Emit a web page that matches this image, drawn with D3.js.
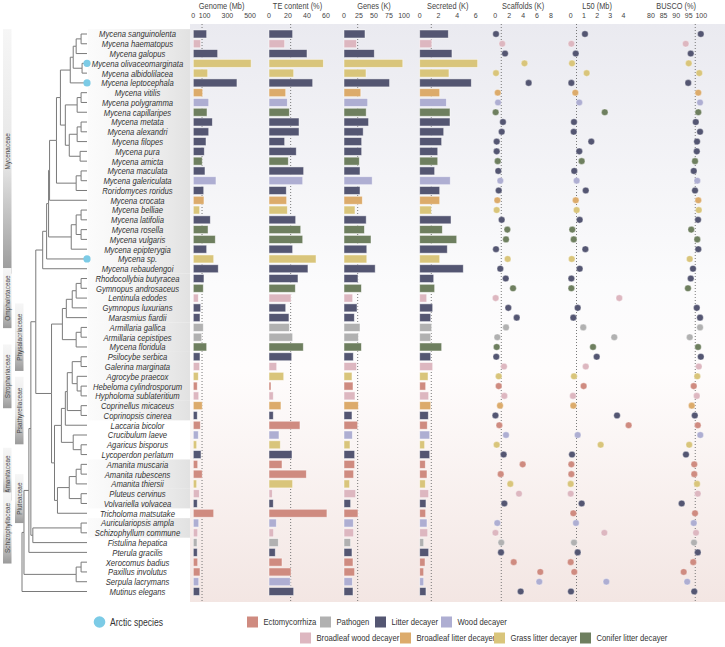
<!doctype html>
<html>
<head>
<meta charset="utf-8">
<style>
  body { margin: 0; background: #fff; }
  svg text { font-family: "Liberation Sans", Arial, sans-serif; }
  .name { font-style: italic; font-size: 9.6px; fill: #333; }
  .head { font-size: 8.4px; fill: #444; }
  .tick { font-size: 7.8px; fill: #444; }
  .fam { font-size: 7px; fill: #4a4a4a; }
  .leg { font-size: 9.6px; fill: #333; }
</style>
</head>
<body>
<svg id="chart" width="725" height="647"></svg>
<script src="https://d3js.org/d3.v7.min.js"></script>
<script>
// ---- data ----
var species = ["Mycena sanguinolenta","Mycena haematopus","Mycena galopus","Mycena olivaceomarginata",
  "Mycena albidolilacea","Mycena leptocephala","Mycena vitilis","Mycena polygramma","Mycena capillaripes",
  "Mycena metata","Mycena alexandri","Mycena filopes","Mycena pura","Mycena amicta","Mycena maculata",
  "Mycena galericulata","Roridomyces roridus","Mycena crocata","Mycena belliae","Mycena latifolia",
  "Mycena rosella","Mycena vulgaris","Mycena epipterygia","Mycena sp.","Mycena rebaudengoi",
  "Rhodocollybia butyracea","Gymnopus androsaceus","Lentinula edodes","Gymnopus luxurians","Marasmius fiardii",
  "Armillaria gallica","Armillaria cepistipes","Mycena floridula","Psilocybe serbica","Galerina marginata",
  "Agrocybe praecox","Hebeloma cylindrosporum","Hypholoma sublateritium","Coprinellus micaceus",
  "Coprinopsis cinerea","Laccaria bicolor","Crucibulum laeve","Agaricus bisporus","Lycoperdon perlatum",
  "Amanita muscaria","Amanita rubescens","Amanita thiersii","Pluteus cervinus","Volvariella volvacea",
  "Tricholoma matsutake","Auriculariopsis ampla","Schizophyllum commune","Fistulina hepatica","Pterula gracilis",
  "Xerocomus badius","Paxillus involutus","Serpula lacrymans","Mutinus elegans"];

// lifestyle code per species (same order)
var lifestyle = ["L","BW","L","G","G","L","BL","W","C","L","L","L","L","C","L","W","L","BL","G","L",
  "C","C","L","G","L","L","C","BW","L","L","P","P","C","L","BW","G","E","BW","BL","L",
  "E","W","G","L","E","E","G","BW","L","E","W","BW","P","L","E","E","W","L"];

var arctic = ["Mycena olivaceomarginata","Mycena leptocephala","Mycena sp."];

var genome = [118,65,215,510,127,385,83,136,121,168,136,112,97,79,103,200,92,94,56,150,
  130,194,118,180,220,94,88,44,65,59,88,74,118,59,56,44,35,48,79,35,
  62,44,30,68,39,79,30,53,35,180,48,39,33,35,39,59,48,56];
var teContent = [24.9,16.5,40,57.2,26,46,17.6,19.3,21.4,31.6,31.6,16.5,28.7,20.3,36.5,35.5,18.2,18.6,19.3,28.1,
  33.4,35.5,24.9,49.5,41,30.5,27.7,23.2,17.6,21,21.4,24.9,36.1,23.9,8.1,15.5,2.1,4.5,12.6,4.5,
  32.6,10.5,11.9,24.2,13.7,39.3,24.9,3.5,4.5,61,7.7,4.9,9.8,6.6,13.7,23.2,22.4,26];
var genes = [35,21,50.5,98,36.7,76,28,39.5,37,41,32,29.5,29.5,25.5,26.7,47,26.7,30.5,18.3,37,
  34,45,38,38,52,23.3,29,14.5,21.7,17.2,26.7,23.9,29,15.5,21,13.3,15,18.3,23.9,13.3,
  22.8,13.9,10,17.8,17.8,16.1,9.4,19.5,11.1,23.3,15.5,16.1,11.1,13.3,15,17.8,13.9,15];
var secreted = [3.06,1.3,3.45,6.2,3.13,5.52,2.14,2.85,3.24,3.24,2.57,2.35,1.93,1.93,1.6,3.27,2.14,2.14,1.25,3.35,
  2.42,3.96,2.95,2.14,4.66,1.5,1.6,0.75,1.39,1.18,1.28,1.18,2.35,1.18,1.39,0.89,0.64,0.96,1.18,0.92,
  0.81,1.07,0.53,1.07,0.6,0.78,0.6,0.96,0.67,0.64,0.78,0.86,0.43,0.96,0.57,0.43,0.43,0.67];
var scaffolds = [0.1,1.0,1.4,4.2,0.1,4.8,0.35,0.39,0.05,1.1,0.92,0.2,0.2,0.35,0.43,0.72,0.49,0.29,0.2,0.92,
  1.73,1.54,0.1,1.78,0.72,1.5,2.55,0.05,1.87,3.08,1.54,0.29,0.2,0.14,1.25,0.49,0.49,1.3,0.68,0.02,
  0.58,1.54,0.2,1.2,3.94,0.78,2.16,3.41,1.3,null,0.29,0.02,0.86,0.82,2.65,6.47,6.33,3.65];
var l50 = [1.08,0.05,0.38,0.1,1.21,0.05,0.35,0.65,2.58,0.25,0.23,1.56,0.65,0.83,0.27,0.45,1.14,0.38,0.45,0.68,
  0.12,0.23,1.11,0.08,0.68,0.05,0.05,3.68,0.53,0.2,0.95,3.3,1.69,1.97,1.14,0.25,0.98,0.17,0.2,3.51,
  4.39,0.53,2.27,0.1,0.05,0.05,0.0,0.0,0.83,0.2,0.4,2.55,0.25,0.53,0.0,0.27,2.7,0.02];
var busco = [99.8,93.8,95.8,95,99.2,94.8,98.8,99.5,98.8,97.8,99.5,98.3,98.2,97.5,97,98.4,97.5,98.8,99,98.7,
  96,98.4,98.8,95.4,96.7,95.8,94.7,null,98.2,99.5,99.5,95.4,98.7,99.8,99,98.4,97,98.2,96.2,97.4,
  98.6,99.6,95.2,93.9,97.2,97.2,98.3,98.6,92.2,97.5,97,97.9,97.1,98.6,96.8,93,94.4,97.2];

// dotted reference values per panel
var refValues = [77, 22.8, 22.8, 1.24, 0.86, 0.44, 97.6];

var panelTitles = ["Genome (Mb)","TE content (%)","Genes (K)","Secreted (K)","Scaffolds (K)","L50 (Mb)","BUSCO (%)"];
var panelTicks = [[0,100,300,500],[0,20,40,60],[0,25,50,75,100],[0,2,4,6],[0,2,4,6,8],[0,1,2,3,4],[80,85,90,95,100]];
var panelDomains = [[0,500],[0,60],[0,100],[0,6],[0,8],[0,4],[80,100]];

var lifestyleCodes = ["E","P","L","W","BW","BL","G","C"];
var lifestyleNames = ["Ectomycorrhiza","Pathogen","Litter decayer","Wood decayer",
  "Broadleaf wood decayer","Broadleaf litter decayer","Grass litter decayer","Conifer litter decayer"];
var lifestyleColors = ["#cf8b80","#b1b1b1","#545672","#aeaed2","#ddb7c0","#dcab6b","#d9c57b","#6e7f5f"];

// families: name, first species, last species, label column
var famNames = ["Mycenaceae","Omphalotaceae","Physalacriaceae","Strophariaceae","Psathyrellaceae","Amanitaceae","Pluteaceae","Schizophyllaceae"];
var famFirst = [1,26,31,34,39,45,48,51];
var famLast = [25,30,33,38,40,47,49,52];
var famCol = [0,0,1,0,1,0,1,0];

// phylogeny: leaves are species numbers, internal labels are node depths
var mycenaceae = "((((((((((1,2)60,3)55,(4,5)61)52,6)49,(((7,8)60,9)56,(((10,11)60,12)56,(13,14)59)48)44)39,((15,16)60,17)55)35,18)28,(((19,20)60,(21,22)60)55,23)50)27,24)25,25)21";
var omphPhys = "(((((26,27)60,28)55,29)51,30)45,((31,32)60,33)55)41";
var agaricoid = "((((((34,35)60,(36,(37,38)60)56)51,(39,40)60)46,41)44,(42,(43,44)60)52)40,((((45,46)60,47)55,(48,49)60)48,50)36)33";
var treeString = "((((((" + mycenaceae + ",(" + omphPhys + "," + agaricoid + ")30)14,((51,52)60,53)11)9,54)7,((55,56)60,57)55)2,58)0";
var leafDepth = 66;

// ---- layout ----
var svg = d3.select("#chart");
var y = d3.scalePoint().domain(species).range([34, 591.5]);
var colorOf = d3.scaleOrdinal().domain(lifestyleCodes).range(lifestyleColors);

var panelRanges = [[193.3,250],[269,326],[344,404],[419.7,475.8],[495.3,550.9],[570.7,623.5],[651,701.3]];
var panelData = [genome, teContent, genes, secreted, scaffolds, l50, busco];
var panelBar = [true,true,true,true,false,false,false];

// narrow text: the reference uses a condensed face
function narrow(sel, x, yy, sx, rot) {
  sel.attr("transform", "translate(" + x + "," + yy + ")" + (rot ? " rotate(" + rot + ")" : "") + " scale(" + sx + ",1)");
  return sel;
}

var defs = svg.append("defs");
var bg = defs.append("linearGradient").attr("id","bg").attr("x1",0).attr("y1",0).attr("x2",0).attr("y2",1);
bg.append("stop").attr("offset","0%").attr("stop-color","#eaeaf0");
bg.append("stop").attr("offset","45%").attr("stop-color","#fbfbfc");
bg.append("stop").attr("offset","60%").attr("stop-color","#fefcfc");
bg.append("stop").attr("offset","100%").attr("stop-color","#f3e6e3");
var nb = defs.append("linearGradient").attr("id","nameband").attr("x1",0).attr("y1",0).attr("x2",1).attr("y2",0);
nb.append("stop").attr("offset","0%").attr("stop-color","#f2f2f2").attr("stop-opacity",0.3);
nb.append("stop").attr("offset","100%").attr("stop-color","#e0e0e0").attr("stop-opacity",0.95);
var fg = defs.append("linearGradient").attr("id","famgrad").attr("x1",0).attr("y1",0).attr("x2",0).attr("y2",1);
fg.append("stop").attr("offset","0%").attr("stop-color","#f6f6f6");
fg.append("stop").attr("offset","55%").attr("stop-color","#e6e6e6");
fg.append("stop").attr("offset","100%").attr("stop-color","#9a9a9a");

svg.append("rect").attr("x",190).attr("y",24).attr("width",535).attr("height",578).attr("fill","url(#bg)");

// family name bands
famNames.forEach(function(f, i) {
  var y0 = y(species[famFirst[i]-1]) - 4.9, y1 = y(species[famLast[i]-1]) + 4.9;
  svg.append("rect").attr("x",88).attr("y",y0).attr("width",102).attr("height",y1-y0)
    .attr("fill","url(#nameband)");
});

// family labels
famNames.forEach(function(f, i) {
  var y0 = y(species[famFirst[i]-1]) - 4.9, y1 = y(species[famLast[i]-1]) + 4.9;
  var len = f.length * 3.7 + 12;
  var mid = (y0 + y1) / 2;
  if (y1 - y0 < len) { y0 = mid - len/2; y1 = mid + len/2; }
  var x = famCol[i] === 0 ? 3 : 15;
  svg.append("rect").attr("x",x).attr("y",y0).attr("width",8.5).attr("height",y1-y0).attr("fill","url(#famgrad)");
  narrow(svg.append("text").attr("class","fam").attr("text-anchor","middle").text(f), x + 6.8, mid, 0.92, -90);
});

// tree
function parseNewick(s) {
  var i = 0;
  function node() {
    var n = {};
    if (s[i] === "(") {
      i++;
      n.children = [node()];
      while (s[i] === ",") { i++; n.children.push(node()); }
      i++;
    }
    var tok = "";
    while (i < s.length && ",()".indexOf(s[i]) < 0) tok += s[i++];
    if (n.children) n.depth = +tok; else { n.leaf = +tok; n.depth = leafDepth; }
    return n;
  }
  return node();
}
var xTree = d3.scaleLinear().domain([0, leafDepth]).range([22, 87]);
var root = d3.hierarchy(parseNewick(treeString));
root.eachAfter(function(n) {
  n.px = xTree(n.data.depth);
  if (n.children) n.py = (n.children[0].py + n.children[n.children.length-1].py) / 2;
  else n.py = y(species[n.data.leaf-1]);
});
svg.append("g").selectAll("path").data(root.links()).join("path")
  .attr("d", function(l) { return "M" + l.source.px + "," + l.source.py + "V" + l.target.py + "H" + l.target.px; })
  .attr("fill","none").attr("stroke","#7a7a7a").attr("stroke-width",1);

// arctic markers
svg.append("g").selectAll("circle").data(arctic).join("circle")
  .attr("cx", xTree(leafDepth)).attr("cy", function(d) { return y(d); }).attr("r",3.6).attr("fill","#7ccbe6");

// species names
svg.append("g").selectAll("text").data(species).join("text").attr("class","name")
  .attr("text-anchor","middle").text(function(d) { return d; })
  .each(function(d) { narrow(d3.select(this), 137.5, y(d) + 3.4, 0.8); });

// panels
panelTitles.forEach(function(title, p) {
  var x = d3.scaleLinear().domain(panelDomains[p]).range(panelRanges[p]);
  var g = svg.append("g");
  narrow(g.append("text").attr("class","head").attr("text-anchor","middle").text(title),
    d3.mean(panelRanges[p]), 9, 0.88);
  g.selectAll("text.tick").data(panelTicks[p]).join("text").attr("class","tick")
    .attr("text-anchor","middle").text(function(d) { return d; })
    .each(function(d) { narrow(d3.select(this), x(d), 18, 0.9); });
  g.append("line").attr("x1", x(refValues[p])).attr("x2", x(refValues[p])).attr("y1",24).attr("y2",602)
    .attr("stroke","#6a6a6a").attr("stroke-width",0.9).attr("stroke-dasharray","1,2");
  var vals = panelData[p].map(function(v, i) { return {v: v, s: species[i], c: lifestyle[i]}; })
    .filter(function(d) { return d.v !== null; });
  if (panelBar[p]) {
    g.selectAll("rect").data(vals).join("rect")
      .attr("x", x(panelDomains[p][0])).attr("y", function(d) { return y(d.s) - 4; })
      .attr("width", function(d) { return x(d.v) - x(panelDomains[p][0]); }).attr("height",8)
      .attr("fill", function(d) { return colorOf(d.c); })
      .attr("stroke","#ffffff").attr("stroke-opacity",0.6).attr("stroke-width",0.8);
  } else {
    g.selectAll("circle").data(vals).join("circle")
      .attr("cx", function(d) { return x(d.v); }).attr("cy", function(d) { return y(d.s); }).attr("r",3.3)
      .attr("fill", function(d) { return colorOf(d.c); })
      .attr("stroke","#ffffff").attr("stroke-opacity",0.6).attr("stroke-width",0.6);
  }
});

// legend
svg.append("circle").attr("cx",99.5).attr("cy",622).attr("r",5.8).attr("fill","#7ccbe6");
narrow(svg.append("text").attr("class","leg").style("font-size","10.5px").text("Arctic species"), 110, 625.8, 0.82);
var legX = [247,320,375,441,300,400,494,580];
var legY = [622,622,622,622,638,638,638,638];
lifestyleNames.forEach(function(n, i) {
  svg.append("rect").attr("x",legX[i]).attr("y",legY[i]-5.5).attr("width",11).attr("height",11)
    .attr("fill", lifestyleColors[i]);
  narrow(svg.append("text").attr("class","leg").text(n), legX[i] + 16.5, legY[i] + 3.3, 0.8);
});
</script>
</body>
</html>
